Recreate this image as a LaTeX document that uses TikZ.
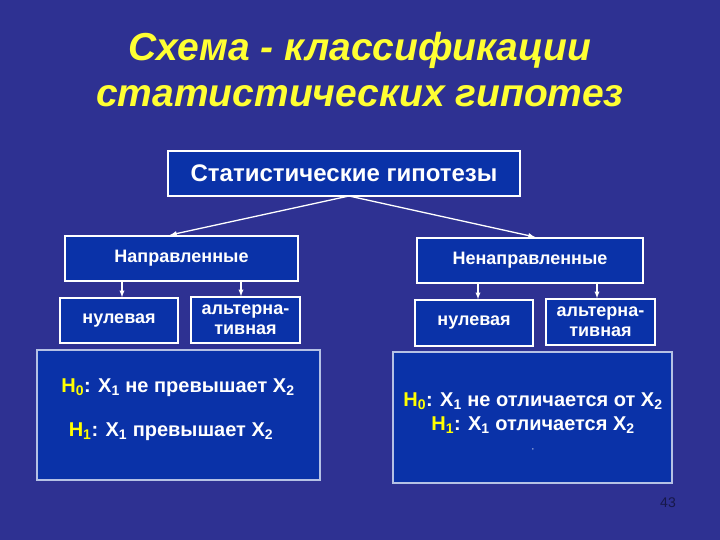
\documentclass[tikz,border=0pt]{standalone}
\usepackage{fontspec}
\setmainfont{Liberation Sans}
\definecolor{bg}{HTML}{2E3192}
\definecolor{bx}{HTML}{0A32A8}
\definecolor{ttl}{HTML}{FFFF33}
\definecolor{hy}{HTML}{FFFF00}
\begin{document}
\begin{tikzpicture}[x=1pt,y=-1pt,
 bxs/.style={draw=white,line width=1.5pt,fill=bx,text=white,font=\bfseries,align=center,inner sep=0pt},
 lbl/.style={font=\bfseries\fontsize{18}{20}\selectfont},
 hyp/.style={text=white,font=\bfseries\fontsize{20}{24}\selectfont},
 arr/.style={draw=white,line width=1.3pt,-latex}]
\fill[bg] (0,0) rectangle (720,540);
\useasboundingbox (0,0) rectangle (720,540);
\node[text=ttl,font=\bfseries\itshape\fontsize{39}{46}\selectfont,align=center] (title) at (360,70) {Схема - классификации\\статистических гипотез};
\node[bxs,minimum width=352,minimum height=45,font=\bfseries\fontsize{24}{26}\selectfont] (top) at (344,173.5) {Статистические гипотезы};
\node[bxs,lbl,minimum width=233,minimum height=45] (L) at (181.5,258.5) {Направленные};
\node[bxs,lbl,minimum width=226,minimum height=45] (R) at (530,260.5) {Ненаправленные};
\node[bxs,lbl,minimum width=118,minimum height=45] (L0) at (119,320.5) {нулевая};
\node[bxs,lbl,minimum width=109,minimum height=46] (L1) at (245.5,320) {альтерна-\\тивная};
\node[bxs,lbl,minimum width=118,minimum height=46] (R0) at (474,323) {нулевая};
\node[bxs,lbl,minimum width=109,minimum height=46] (R1) at (600.5,322) {альтерна-\\тивная};
\node[bxs,draw=white!70!bx,minimum width=283,minimum height=130] (BL) at (178.5,415) {};
\node[bxs,draw=white!70!bx,minimum width=279,minimum height=131] (BR) at (532.5,417.5) {};
\node[hyp] (hl0) at (178,388) {\textcolor{hy}{H\textsubscript{0}}: X\textsubscript{1} не превышает X\textsubscript{2}};
\node[hyp] (hl1) at (171,432) {\textcolor{hy}{H\textsubscript{1}}: X\textsubscript{1} превышает X\textsubscript{2}};
\node[hyp] (hr0) at (533,401) {\textcolor{hy}{H\textsubscript{0}}: X\textsubscript{1} не отличается от X\textsubscript{2}};
\node[hyp] (hr1) at (533,425) {\textcolor{hy}{H\textsubscript{1}}: X\textsubscript{1} отличается X\textsubscript{2}};
\node[text=white,font=\fontsize{8}{9}\selectfont] (cm) at (533,450) {,};
\node[text=bg!50!black,font=\fontsize{14}{15}\selectfont] (pg) at (668,503) {43};
\coordinate (tb) at (349,196);
\draw[arr] (tb) -- (170,235);
\draw[arr] (tb) -- (535,237);
\draw[arr] (122,281) -- (L0.north -| 122,0);
\draw[arr] (241,281) -- (L1.north -| 241,0);
\draw[arr] (478,283) -- (R0.north -| 478,0);
\draw[arr] (597,283) -- (R1.north -| 597,0);
\end{tikzpicture}
\end{document}
